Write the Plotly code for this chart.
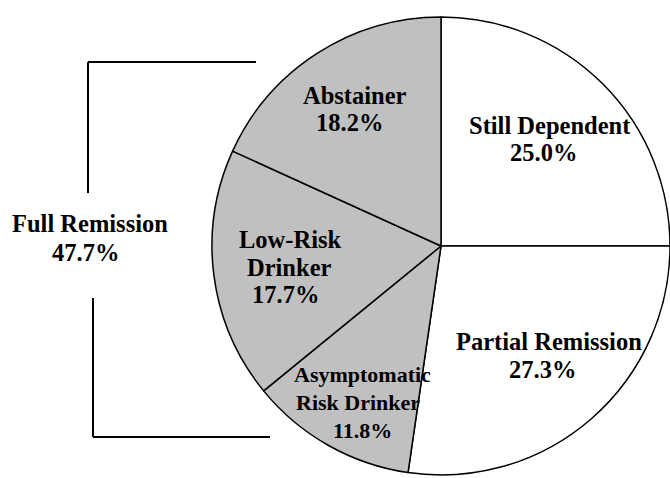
import plotly.graph_objects as go

W, H = 670, 478

# ---- data ----
categories = ["Still Dependent", "Partial Remission", "Asymptomatic Risk Drinker",
              "Low-Risk Drinker", "Abstainer"]
percent = [25.0, 27.3, 11.8, 17.7, 18.2]
group = ["other", "other", "full", "full", "full"]
full_remission_label = "Full Remission"
full_remission_pct = 47.7

# ---- styles ----
fill_map = {"other": "#ffffff", "full": "#c0c0c0"}
FONT = "Liberation Serif, Times New Roman, serif"


def px(x):
    return x / W


def py(y):
    return 1 - y / H


fig = go.Figure()
fig.add_trace(go.Pie(
    labels=categories,
    values=percent,
    sort=False,
    direction="clockwise",
    rotation=0,
    marker=dict(colors=[fill_map[g] for g in group],
                line=dict(color="#000000", width=1.5)),
    textinfo="none",
    hoverinfo="label+percent",
    domain=dict(x=[px(212), 1.0], y=[py(475), py(17)]),
    showlegend=False,
))

# label lines (text, x-center px, y-center px, size)
lab = {c: f"{v:.1f}%" for c, v in zip(categories, percent)}
lines = [
    ("Abstainer", 355, 96, 24.5),
    (lab["Abstainer"], 350, 123, 24.5),
    ("Still Dependent", 550, 125, 24.5),
    (lab["Still Dependent"], 543, 153, 24.5),
    ("Low-Risk", 290, 239, 24.5),
    ("Drinker", 289, 267, 24.5),
    (lab["Low-Risk Drinker"], 285, 294, 24.5),
    ("Partial Remission", 549, 341, 24.5),
    (lab["Partial Remission"], 542, 369, 24.5),
    ("Asymptomatic", 362, 374, 22),
    ("Risk Drinker", 358, 402, 22),
    (lab["Asymptomatic Risk Drinker"], 362, 430, 22),
    (full_remission_label, 90, 223, 24.5),
    (f"{full_remission_pct:.1f}%", 85, 252, 24.5),
]
for t, x, y, s in lines:
    fig.add_annotation(text=f"<b>{t}</b>", x=px(x), y=py(y), xref="paper", yref="paper",
                       xanchor="center", yanchor="middle", showarrow=False,
                       font=dict(family=FONT, size=s, color="#000000"))

# bracket around the full-remission group
seg = [((88, 62), (256, 62)), ((88, 62), (88, 193)),
       ((93, 298), (93, 437)), ((93, 437), (270, 437))]
for (x0, y0), (x1, y1) in seg:
    fig.add_shape(type="line", xref="paper", yref="paper",
                  x0=px(x0), y0=py(y0), x1=px(x1), y1=py(y1),
                  line=dict(color="#000000", width=2))

fig.update_layout(width=W, height=H, margin=dict(l=0, r=0, t=0, b=0),
                  paper_bgcolor="#ffffff", plot_bgcolor="#ffffff", showlegend=False)

fig.write_html("out.html",
               config={"displayModeBar": False},
               post_script="document.body.style.margin='0';document.body.style.overflow='hidden';")
